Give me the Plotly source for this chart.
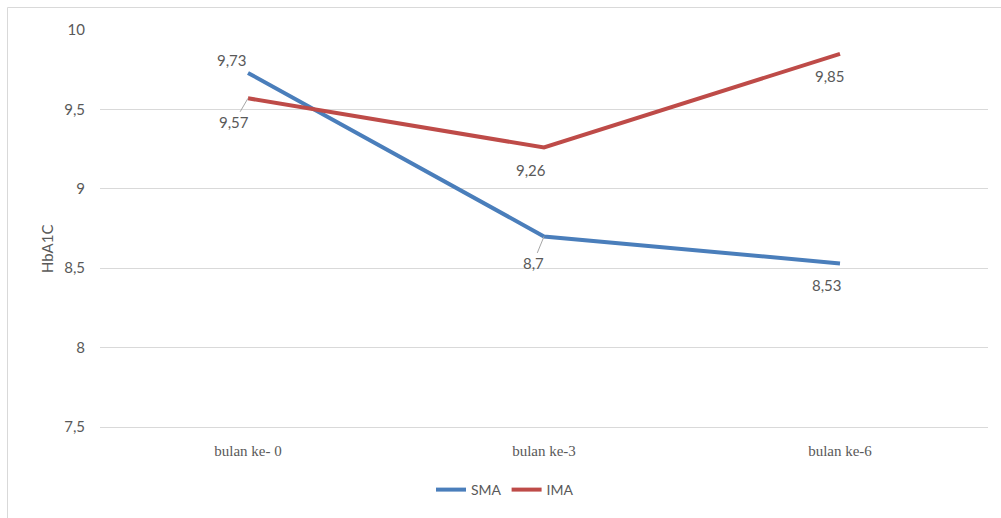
import plotly.graph_objects as go

categories = ["bulan ke- 0", "bulan ke-3", "bulan ke-6"]
sma = [9.73, 8.7, 8.53]
ima = [9.57, 9.26, 9.85]
y_ticks = [7.5, 8, 8.5, 9, 9.5, 10]
y_tick_labels = ["7,5", "8", "8,5", "9", "9,5", "10"]

BLUE = "#4a7ebb"
RED = "#be4b48"
TEXT = "#595959"
GRID = "#d9d9d9"
SANS = "Lato, 'Noto Sans', sans-serif"
SERIF = "'Liberation Serif', 'DejaVu Serif', serif"

W, H = 1001, 518
L, R, T, B = 100, 13, 30, 91
pw, ph = W - L - R, H - T - B

fig = go.Figure()
fig.add_trace(go.Scatter(x=categories, y=sma, mode="lines", name="SMA",
                         line=dict(color=BLUE, width=4)))
fig.add_trace(go.Scatter(x=categories, y=ima, mode="lines", name="IMA",
                         line=dict(color=RED, width=4)))


def fmt(v):
    return f"{v:g}".replace(".", ",")


# data labels: (category index, value, dx, dy, leader line)
label_specs = [
    (0, sma[0], -16, 13, False),
    (1, sma[1], -11, 27, True),
    (2, sma[2], -13, -22, False),
    (0, ima[0], -14, 24, True),
    (1, ima[1], -13, -22, False),
    (2, ima[2], -10, -22, False),
]
for i, v, dx, dy, leader in label_specs:
    if leader:
        fig.add_annotation(x=categories[i], y=v, text=fmt(v), showarrow=True,
                           ax=dx, ay=dy, arrowhead=0, arrowwidth=1,
                           arrowcolor="#a6a6a6", standoff=0,
                           font=dict(family=SANS, size=15, color=TEXT))
    else:
        fig.add_annotation(x=categories[i], y=v, text=fmt(v), showarrow=False,
                           xshift=dx, yshift=dy,
                           font=dict(family=SANS, size=15, color=TEXT))

# y-axis title
fig.add_annotation(xref="paper", yref="paper", x=(47 - L) / pw, y=(H - B - 249) / ph,
                   xanchor="center", yanchor="middle",
                   text="HbA1C", textangle=-90, showarrow=False,
                   font=dict(family=SANS, size=15, color=TEXT))

# chart border
fig.add_shape(type="rect", xref="paper", yref="paper",
              x0=(7.5 - L) / pw, x1=(W + 20 - L) / pw,
              y0=(H - B - (H + 20)) / ph, y1=(H - B - 7.5) / ph,
              line=dict(color=GRID, width=1), fillcolor="rgba(0,0,0,0)")

fig.update_layout(
    width=W, height=H,
    margin=dict(l=L, r=R, t=T, b=B),
    paper_bgcolor="white", plot_bgcolor="white",
    separators=",.",
    showlegend=True,
    legend=dict(orientation="h", xref="container", yref="container",
                x=505 / W, y=1 - 490 / H, xanchor="center", yanchor="middle",
                font=dict(family=SANS, size=14, color=TEXT),
                itemwidth=30, tracegroupgap=0),
    xaxis=dict(range=[-0.5, 2.5], showgrid=False, zeroline=False,
               showline=True, linecolor=GRID, linewidth=1,
               tickfont=dict(family=SERIF, size=15, color=TEXT),
               ticklabelstandoff=10),
    yaxis=dict(range=[7.5, 10], tickvals=y_ticks, ticktext=y_tick_labels,
               showgrid=True, gridcolor=GRID, gridwidth=1, zeroline=False,
               showline=False,
               tickfont=dict(family=SANS, size=15, color=TEXT),
               ticklabelstandoff=14),
)

fig.write_html("out.html")
